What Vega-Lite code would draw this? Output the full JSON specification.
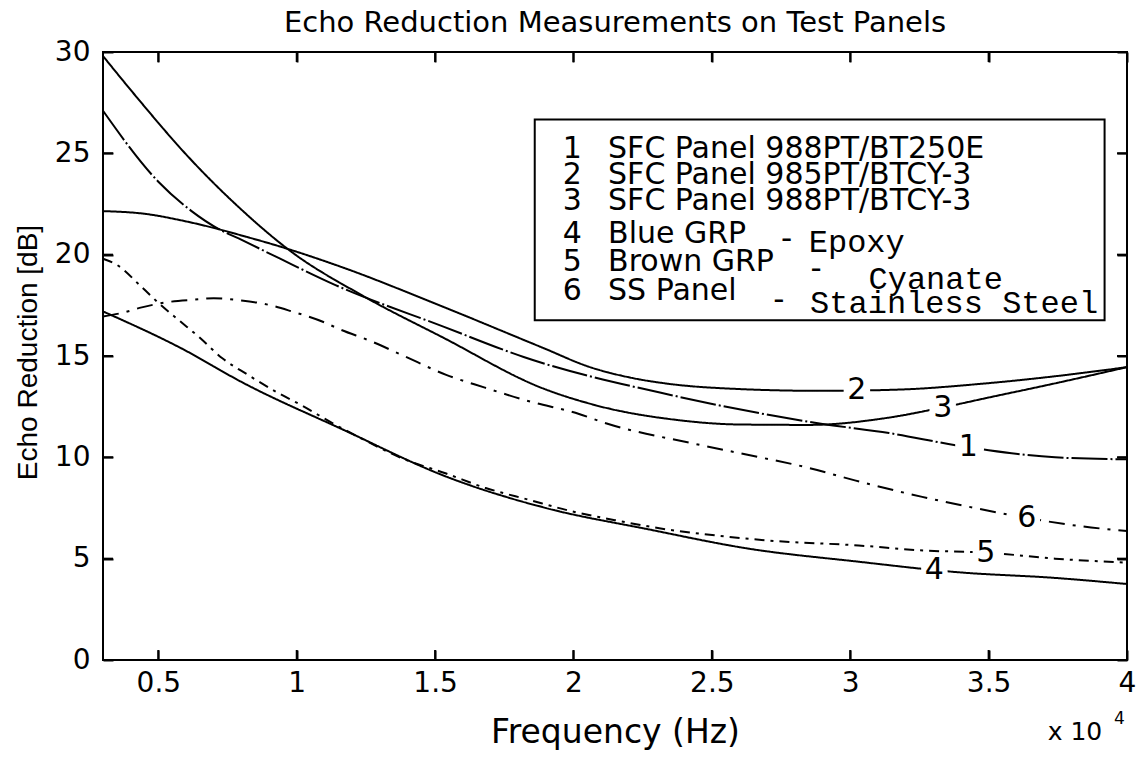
{
  "$schema": "https://vega.github.io/schema/vega-lite/v6.json",
  "width": 1024,
  "height": 608,
  "autosize": {"type": "none"},
  "padding": {"left": 103, "top": 52, "right": 9, "bottom": 107},
  "background": "white",
  "title": {"text": "Echo Reduction Measurements on Test Panels", "font": "DejaVu Sans", "fontSize": 29, "fontWeight": "normal", "color": "black", "anchor": "middle", "offset": 0},
  "config": {
    "view": {"stroke": "black", "strokeWidth": 2},
    "axis": {"grid": false, "domain": false, "offset": -10, "ticks": true, "tickColor": "#000000", "tickOpacity": 1, "tickWidth": 2, "tickSize": 10, "labelFont": "DejaVu Sans", "labelFontSize": 28, "labelColor": "black", "titleColor": "black", "titleFontWeight": "normal", "labelFlush": false, "labelOverlap": false}
  },
  "datasets": {
    "box": [{"x1": 18600, "x2": 39190, "y1": 16.76, "y2": 26.67}],
    "xtb": [{"freq": 5000, "er": 0}, {"freq": 10000, "er": 0}, {"freq": 15000, "er": 0}, {"freq": 20000, "er": 0}, {"freq": 25000, "er": 0}, {"freq": 30000, "er": 0}, {"freq": 35000, "er": 0}],
    "xtt": [{"freq": 5000, "er": 30}, {"freq": 10000, "er": 30}, {"freq": 15000, "er": 30}, {"freq": 20000, "er": 30}, {"freq": 25000, "er": 30}, {"freq": 30000, "er": 30}, {"freq": 35000, "er": 30}],
    "ytl": [{"freq": 3000, "er": 5}, {"freq": 3000, "er": 10}, {"freq": 3000, "er": 15}, {"freq": 3000, "er": 20}, {"freq": 3000, "er": 25}],
    "ytr": [{"freq": 40000, "er": 5}, {"freq": 40000, "er": 10}, {"freq": 40000, "er": 15}, {"freq": 40000, "er": 20}, {"freq": 40000, "er": 25}],
    "curves": [
      {"curve": "1", "freq": 3000, "er": 27.1}, {"curve": "1", "freq": 5000, "er": 23.6}, {"curve": "1", "freq": 6200, "er": 22.15}, {"curve": "1", "freq": 7200, "er": 21.25}, {"curve": "1", "freq": 7900, "er": 20.8}, {"curve": "1", "freq": 9400, "er": 19.8}, {"curve": "1", "freq": 11400, "er": 18.5}, {"curve": "1", "freq": 15300, "er": 16.45}, {"curve": "1", "freq": 18200, "er": 14.95}, {"curve": "1", "freq": 23600, "er": 13.05}, {"curve": "1", "freq": 29000, "er": 11.65}, {"curve": "1", "freq": 31400, "er": 11.2}, {"curve": "1", "freq": 33800, "er": 10.6}, {"curve": "1", "freq": 35000, "er": 10.35}, {"curve": "1", "freq": 37400, "er": 10.0}, {"curve": "1", "freq": 40000, "er": 9.9},
      {"curve": "2", "freq": 3000, "er": 22.15}, {"curve": "2", "freq": 4600, "er": 22.0}, {"curve": "2", "freq": 5800, "er": 21.7}, {"curve": "2", "freq": 7200, "er": 21.25}, {"curve": "2", "freq": 8000, "er": 20.95}, {"curve": "2", "freq": 9400, "er": 20.4}, {"curve": "2", "freq": 11600, "er": 19.4}, {"curve": "2", "freq": 15250, "er": 17.45}, {"curve": "2", "freq": 18900, "er": 15.4}, {"curve": "2", "freq": 20600, "er": 14.45}, {"curve": "2", "freq": 22000, "er": 13.95}, {"curve": "2", "freq": 23600, "er": 13.6}, {"curve": "2", "freq": 25500, "er": 13.4}, {"curve": "2", "freq": 29000, "er": 13.28}, {"curve": "2", "freq": 31900, "er": 13.35}, {"curve": "2", "freq": 34500, "er": 13.6}, {"curve": "2", "freq": 37400, "er": 14.0}, {"curve": "2", "freq": 40000, "er": 14.45},
      {"curve": "3", "freq": 3000, "er": 29.8}, {"curve": "3", "freq": 4200, "er": 27.8}, {"curve": "3", "freq": 6100, "er": 24.8}, {"curve": "3", "freq": 7900, "er": 22.35}, {"curve": "3", "freq": 9800, "er": 20.15}, {"curve": "3", "freq": 12350, "er": 18.0}, {"curve": "3", "freq": 15300, "er": 15.9}, {"curve": "3", "freq": 18900, "er": 13.4}, {"curve": "3", "freq": 21000, "er": 12.5}, {"curve": "3", "freq": 23700, "er": 11.85}, {"curve": "3", "freq": 26000, "er": 11.62}, {"curve": "3", "freq": 28500, "er": 11.6}, {"curve": "3", "freq": 31350, "er": 11.95}, {"curve": "3", "freq": 33300, "er": 12.45}, {"curve": "3", "freq": 35000, "er": 12.95}, {"curve": "3", "freq": 37400, "er": 13.65}, {"curve": "3", "freq": 40000, "er": 14.45},
      {"curve": "4", "freq": 3000, "er": 17.2}, {"curve": "4", "freq": 5800, "er": 15.4}, {"curve": "4", "freq": 8100, "er": 13.65}, {"curve": "4", "freq": 11700, "er": 11.35}, {"curve": "4", "freq": 15400, "er": 9.05}, {"curve": "4", "freq": 19000, "er": 7.5}, {"curve": "4", "freq": 22700, "er": 6.45}, {"curve": "4", "freq": 26300, "er": 5.5}, {"curve": "4", "freq": 30300, "er": 4.85}, {"curve": "4", "freq": 33900, "er": 4.33}, {"curve": "4", "freq": 37400, "er": 4.05}, {"curve": "4", "freq": 40000, "er": 3.75},
      {"curve": "5", "freq": 3000, "er": 19.8}, {"curve": "5", "freq": 3500, "er": 19.5}, {"curve": "5", "freq": 4400, "er": 18.4}, {"curve": "5", "freq": 5100, "er": 17.5}, {"curve": "5", "freq": 5800, "er": 16.7}, {"curve": "5", "freq": 6500, "er": 15.9}, {"curve": "5", "freq": 7300, "er": 14.9}, {"curve": "5", "freq": 8200, "er": 14.1}, {"curve": "5", "freq": 9300, "er": 13.2}, {"curve": "5", "freq": 10200, "er": 12.55}, {"curve": "5", "freq": 11400, "er": 11.6}, {"curve": "5", "freq": 12100, "er": 11.1}, {"curve": "5", "freq": 13900, "er": 9.9}, {"curve": "5", "freq": 15400, "er": 9.2}, {"curve": "5", "freq": 16800, "er": 8.5}, {"curve": "5", "freq": 18400, "er": 7.9}, {"curve": "5", "freq": 19900, "er": 7.35}, {"curve": "5", "freq": 21500, "er": 6.9}, {"curve": "5", "freq": 23100, "er": 6.5}, {"curve": "5", "freq": 25100, "er": 6.15}, {"curve": "5", "freq": 27000, "er": 5.9}, {"curve": "5", "freq": 30300, "er": 5.65}, {"curve": "5", "freq": 32700, "er": 5.4}, {"curve": "5", "freq": 34900, "er": 5.3}, {"curve": "5", "freq": 37400, "er": 5.0}, {"curve": "5", "freq": 40000, "er": 4.8},
      {"curve": "6", "freq": 3000, "er": 16.95}, {"curve": "6", "freq": 3700, "er": 17.13}, {"curve": "6", "freq": 4400, "er": 17.4}, {"curve": "6", "freq": 5400, "er": 17.67}, {"curve": "6", "freq": 6300, "er": 17.78}, {"curve": "6", "freq": 7000, "er": 17.85}, {"curve": "6", "freq": 8000, "er": 17.74}, {"curve": "6", "freq": 9000, "er": 17.52}, {"curve": "6", "freq": 9800, "er": 17.21}, {"curve": "6", "freq": 11000, "er": 16.66}, {"curve": "6", "freq": 11500, "er": 16.35}, {"curve": "6", "freq": 12700, "er": 15.72}, {"curve": "6", "freq": 13800, "er": 15.05}, {"curve": "6", "freq": 15400, "er": 14.07}, {"curve": "6", "freq": 16800, "er": 13.44}, {"curve": "6", "freq": 18300, "er": 12.8}, {"curve": "6", "freq": 20200, "er": 12.14}, {"curve": "6", "freq": 21200, "er": 11.67}, {"curve": "6", "freq": 24300, "er": 10.69}, {"curve": "6", "freq": 26200, "er": 10.15}, {"curve": "6", "freq": 28500, "er": 9.48}, {"curve": "6", "freq": 30200, "er": 8.85}, {"curve": "6", "freq": 32600, "er": 8.05}, {"curve": "6", "freq": 34500, "er": 7.5}, {"curve": "6", "freq": 36500, "er": 6.98}, {"curve": "6", "freq": 38700, "er": 6.54}, {"curve": "6", "freq": 40000, "er": 6.37}
    ],
    "labels": [
      {"label": "2", "freq": 30240, "er": 13.33},
      {"label": "3", "freq": 33340, "er": 12.45},
      {"label": "1", "freq": 34270, "er": 10.5},
      {"label": "6", "freq": 36380, "er": 7.01},
      {"label": "5", "freq": 34900, "er": 5.3},
      {"label": "4", "freq": 33040, "er": 4.42}
    ],
    "legnum": [
      {"t": "1", "freq": 20300, "er": 25.21},
      {"t": "2", "freq": 20300, "er": 23.93},
      {"t": "3", "freq": 20300, "er": 22.65},
      {"t": "4", "freq": 20300, "er": 21.02},
      {"t": "5", "freq": 20300, "er": 19.64},
      {"t": "6", "freq": 20300, "er": 18.21}
    ],
    "legtext": [
      {"t": "SFC Panel 988PT/BT250E", "freq": 21250, "er": 25.21},
      {"t": "SFC Panel 985PT/BTCY-3", "freq": 21250, "er": 23.93},
      {"t": "SFC Panel 988PT/BTCY-3", "freq": 21250, "er": 22.65},
      {"t": "Blue GRP", "freq": 21250, "er": 21.02},
      {"t": "Brown GRP", "freq": 21250, "er": 19.64},
      {"t": "SS Panel", "freq": 21250, "er": 18.21}
    ],
    "legmono": [
      {"t": "Epoxy", "freq": 28500, "er": 20.62},
      {"t": "Cyanate", "freq": 30660, "er": 18.8},
      {"t": "Stainless Steel", "freq": 28550, "er": 17.61}
    ],
    "legdash": [
      {"t": "-", "freq": 27700, "er": 20.79},
      {"t": "-", "freq": 28770, "er": 19.29},
      {"t": "-", "freq": 27420, "er": 17.78}
    ],
    "exp": [
      {"t": "x 10", "freq": 38120, "er": -3.56, "size": 25},
      {"t": "4", "freq": 39730, "er": -2.92, "size": 17}
    ]
  },
  "layer": [
    {
      "data": {"name": "box"},
      "mark": {"type": "rect", "fill": "white", "stroke": "black", "strokeWidth": 2},
      "encoding": {
        "x": {"field": "x1", "type": "quantitative", "axis": null, "scale": {"domain": [3000, 40000], "nice": false, "zero": false}},
        "x2": {"field": "x2"},
        "y": {"field": "y1", "type": "quantitative", "axis": null, "scale": {"domain": [0, 30], "nice": false, "zero": false}},
        "y2": {"field": "y2"}
      }
    },
    {
      "data": {"name": "curves"},
      "mark": {"type": "line", "color": "black", "strokeWidth": 2, "interpolate": "monotone"},
      "encoding": {
        "x": {"field": "freq", "type": "quantitative", "scale": {"domain": [3000, 40000], "nice": false, "zero": false},
          "axis": {"orient": "bottom", "zindex": 2, "values": [5000, 10000, 15000, 20000, 25000, 30000, 35000, 40000], "labelExpr": "'' + (datum.value / 10000)", "labelPadding": 9, "ticks": true, "tickSize": 10, "tickColor": "#000000", "tickWidth": 2,
            "title": "Frequency (Hz)", "titleFont": "DejaVu Sans", "titleFontSize": 33, "titleX": 512, "titleY": 92, "titleBaseline": "alphabetic", "titleAlign": "center", "titleAnchor": null}},
        "y": {"field": "er", "type": "quantitative", "scale": {"domain": [0, 30], "nice": false, "zero": false},
          "axis": {"orient": "left", "zindex": 2, "values": [0, 5, 10, 15, 20, 25, 30], "labelPadding": 13, "ticks": true, "tickSize": 10, "tickColor": "#000000", "tickWidth": 2,
            "title": "Echo Reduction [dB]", "titleFont": "Liberation Sans", "titleFontSize": 28, "titleX": -77, "titleY": 300, "titleAngle": 270, "titleBaseline": "alphabetic", "titleAlign": "center", "titleAnchor": null}},
        "strokeDash": {"field": "curve", "type": "nominal", "legend": null,
          "scale": {"domain": ["1", "2", "3", "4", "5", "6"], "range": [[36, 3, 2, 3], [1, 0], [1, 0], [1, 0], [10, 6, 3, 6], [16, 8, 3, 8]]}}
      }
    },
    {
      "data": {"name": "labels"},
      "mark": {"type": "point", "shape": "square", "filled": true, "color": "white", "opacity": 1, "size": 700},
      "encoding": {
        "x": {"field": "freq", "type": "quantitative", "scale": {"domain": [3000, 40000], "nice": false, "zero": false},
          "axis": {"orient": "top", "zindex": 2, "values": [5000, 10000, 15000, 20000, 25000, 30000, 35000, 40000], "labels": false, "title": null, "ticks": true, "tickSize": 10, "tickColor": "#000000", "tickWidth": 2}},
        "y": {"field": "er", "type": "quantitative", "scale": {"domain": [0, 30], "nice": false, "zero": false},
          "axis": {"orient": "right", "zindex": 2, "values": [0, 5, 10, 15, 20, 25, 30], "labels": false, "title": null, "ticks": true, "tickSize": 10, "tickColor": "#000000", "tickWidth": 2}}
      }
    },
    {
      "data": {"name": "xtb"},
      "mark": {"type": "tick", "orient": "vertical", "size": 10, "thickness": 2, "color": "black", "opacity": 1, "yOffset": -5},
      "encoding": {
        "x": {"field": "freq", "type": "quantitative", "axis": null, "scale": {"domain": [3000, 40000], "nice": false, "zero": false}},
        "y": {"field": "er", "type": "quantitative", "axis": null, "scale": {"domain": [0, 30], "nice": false, "zero": false}}
      }
    },
    {
      "data": {"name": "xtt"},
      "mark": {"type": "tick", "orient": "vertical", "size": 10, "thickness": 2, "color": "black", "opacity": 1, "yOffset": 5},
      "encoding": {
        "x": {"field": "freq", "type": "quantitative", "axis": null, "scale": {"domain": [3000, 40000], "nice": false, "zero": false}},
        "y": {"field": "er", "type": "quantitative", "axis": null, "scale": {"domain": [0, 30], "nice": false, "zero": false}}
      }
    },
    {
      "data": {"name": "ytl"},
      "mark": {"type": "tick", "orient": "horizontal", "size": 10, "thickness": 2, "color": "black", "opacity": 1, "xOffset": 5},
      "encoding": {
        "x": {"field": "freq", "type": "quantitative", "axis": null, "scale": {"domain": [3000, 40000], "nice": false, "zero": false}},
        "y": {"field": "er", "type": "quantitative", "axis": null, "scale": {"domain": [0, 30], "nice": false, "zero": false}}
      }
    },
    {
      "data": {"name": "ytr"},
      "mark": {"type": "tick", "orient": "horizontal", "size": 10, "thickness": 2, "color": "black", "opacity": 1, "xOffset": -5},
      "encoding": {
        "x": {"field": "freq", "type": "quantitative", "axis": null, "scale": {"domain": [3000, 40000], "nice": false, "zero": false}},
        "y": {"field": "er", "type": "quantitative", "axis": null, "scale": {"domain": [0, 30], "nice": false, "zero": false}}
      }
    },
    {
      "data": {"name": "labels"},
      "mark": {"type": "text", "font": "DejaVu Sans", "fontSize": 30, "color": "black", "align": "center", "baseline": "middle"},
      "encoding": {
        "x": {"field": "freq", "type": "quantitative", "axis": null, "scale": {"domain": [3000, 40000], "nice": false, "zero": false}},
        "y": {"field": "er", "type": "quantitative", "axis": null, "scale": {"domain": [0, 30], "nice": false, "zero": false}},
        "text": {"field": "label"}
      }
    },
    {
      "data": {"name": "legnum"},
      "mark": {"type": "text", "font": "DejaVu Sans", "fontSize": 30, "color": "black", "align": "right", "baseline": "middle"},
      "encoding": {
        "x": {"field": "freq", "type": "quantitative", "axis": null, "scale": {"domain": [3000, 40000], "nice": false, "zero": false}},
        "y": {"field": "er", "type": "quantitative", "axis": null, "scale": {"domain": [0, 30], "nice": false, "zero": false}},
        "text": {"field": "t"}
      }
    },
    {
      "data": {"name": "legtext"},
      "mark": {"type": "text", "font": "DejaVu Sans", "fontSize": 30, "color": "black", "align": "left", "baseline": "middle"},
      "encoding": {
        "x": {"field": "freq", "type": "quantitative", "axis": null, "scale": {"domain": [3000, 40000], "nice": false, "zero": false}},
        "y": {"field": "er", "type": "quantitative", "axis": null, "scale": {"domain": [0, 30], "nice": false, "zero": false}},
        "text": {"field": "t"}
      }
    },
    {
      "data": {"name": "legmono"},
      "mark": {"type": "text", "font": "Liberation Mono", "fontSize": 32, "color": "black", "align": "left", "baseline": "middle"},
      "encoding": {
        "x": {"field": "freq", "type": "quantitative", "axis": null, "scale": {"domain": [3000, 40000], "nice": false, "zero": false}},
        "y": {"field": "er", "type": "quantitative", "axis": null, "scale": {"domain": [0, 30], "nice": false, "zero": false}},
        "text": {"field": "t"}
      }
    },
    {
      "data": {"name": "legdash"},
      "mark": {"type": "text", "font": "DejaVu Sans", "fontSize": 31, "color": "black", "align": "center", "baseline": "middle"},
      "encoding": {
        "x": {"field": "freq", "type": "quantitative", "axis": null, "scale": {"domain": [3000, 40000], "nice": false, "zero": false}},
        "y": {"field": "er", "type": "quantitative", "axis": null, "scale": {"domain": [0, 30], "nice": false, "zero": false}},
        "text": {"field": "t"}
      }
    },
    {
      "data": {"name": "exp"},
      "mark": {"type": "text", "font": "DejaVu Sans", "color": "black", "align": "center", "baseline": "middle"},
      "encoding": {
        "x": {"field": "freq", "type": "quantitative", "axis": null, "scale": {"domain": [3000, 40000], "nice": false, "zero": false}},
        "y": {"field": "er", "type": "quantitative", "axis": null, "scale": {"domain": [0, 30], "nice": false, "zero": false}},
        "text": {"field": "t"},
        "size": {"field": "size", "type": "quantitative", "scale": null}
      }
    }
  ]
}
